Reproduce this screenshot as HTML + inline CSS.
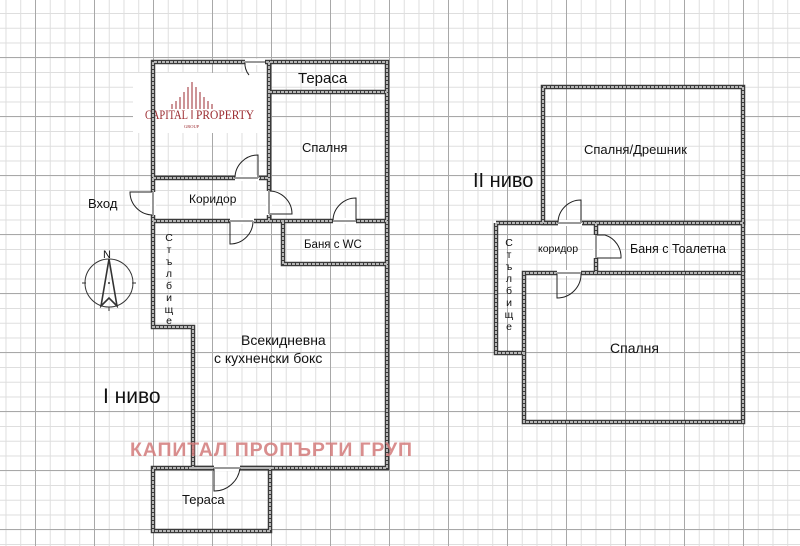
<!DOCTYPE html>
<html><head><meta charset="utf-8"><style>
html,body{margin:0;padding:0;background:#fff}
#c{position:relative;width:800px;height:546px;overflow:hidden;
background-color:#fff;
background-image:
linear-gradient(to right, #a8a8a8 1px, transparent 1px),
linear-gradient(to bottom, #a8a8a8 1px, transparent 1px),
linear-gradient(to right, #dedede 1px, transparent 1px),
linear-gradient(to bottom, #dedede 1px, transparent 1px);
background-size:59px 59px,59px 59px,14.75px 14.75px,14.75px 14.75px;
background-position:35px 0,0 57px,5.5px 0,0 13px;}
svg{position:absolute;left:0;top:0}
text{font-family:"Liberation Sans","DejaVu Sans",sans-serif;fill:#111}
</style></head><body><div id="c">
<svg width="800" height="546" viewBox="0 0 800 546">
<rect x="133" y="73" width="134" height="60" fill="#fff"/>
<g stroke="#9b2a2f" stroke-width="1">
<line x1="192" y1="82" x2="192" y2="109"/>
<line x1="188" y1="87" x2="188" y2="109"/><line x1="196" y1="87" x2="196" y2="109"/>
<line x1="184" y1="92" x2="184" y2="109"/><line x1="200" y1="92" x2="200" y2="109"/>
<line x1="180" y1="97" x2="180" y2="109"/><line x1="204" y1="97" x2="204" y2="109"/>
<line x1="176" y1="101" x2="176" y2="109"/><line x1="208" y1="101" x2="208" y2="109"/>
<line x1="172" y1="104" x2="172" y2="109"/><line x1="212" y1="104" x2="212" y2="109"/>
<line x1="192" y1="110" x2="192" y2="119"/>
</g>
<text x="145" y="119" style="font-family:'Liberation Serif',serif;fill:#9b2a2f;font-size:12.5px" textLength="43" lengthAdjust="spacingAndGlyphs">CAPITAL</text>
<text x="196" y="119" style="font-family:'Liberation Serif',serif;fill:#9b2a2f;font-size:12.5px" textLength="58" lengthAdjust="spacingAndGlyphs">PROPERTY</text>
<text x="184" y="128" style="font-family:'Liberation Serif',serif;fill:#9b2a2f;font-size:4.5px">GROUP</text>

<g fill="none" stroke="#3a3a3a" stroke-width="4.5" stroke-linejoin="miter">
<path d="M153 221 V62 H387 V468 H193 V327 H153 V221"/>
<path d="M269 62 V221"/><path d="M269 92 H387"/><path d="M153 178 H269"/>
<path d="M153 221 H387"/><path d="M283 221 V264 H387"/>
<rect x="153" y="468" width="117" height="63"/>
<rect x="543" y="87" width="200" height="136"/>
<path d="M496 223 H743 V273"/>
<path d="M496 223 V353 H524 V273 H743 V422 H524 V353"/>
<path d="M596 223 V273"/>
</g>
<g fill="none" stroke="#b5b5b5" stroke-width="2" stroke-dasharray="3 1">
<path d="M153 221 V62 H387 V468 H193 V327 H153 V221"/>
<path d="M269 62 V221"/><path d="M269 92 H387"/><path d="M153 178 H269"/>
<path d="M153 221 H387"/><path d="M283 221 V264 H387"/>
<rect x="153" y="468" width="117" height="63"/>
<rect x="543" y="87" width="200" height="136"/>
<path d="M496 223 H743 V273"/>
<path d="M496 223 V353 H524 V273 H743 V422 H524 V353"/>
<path d="M596 223 V273"/>
</g>
<g stroke="#fff" stroke-width="6">
<line x1="245" y1="62" x2="265" y2="62"/>
<line x1="235" y1="178" x2="259" y2="178"/>
<line x1="153" y1="192" x2="153" y2="215"/>
<line x1="269" y1="191" x2="269" y2="215"/>
<line x1="333" y1="221" x2="356" y2="221"/>
<line x1="230" y1="221" x2="254" y2="221"/>
<line x1="214" y1="468" x2="240" y2="468"/>
<line x1="558" y1="223" x2="582" y2="223"/>
<line x1="596" y1="235" x2="596" y2="258"/>
<line x1="557" y1="273" x2="581" y2="273"/>
</g>
<g fill="none" stroke="#222" stroke-width="1">
<path d="M245 62 A18 18 0 0 0 249 75"/>
<path d="M235 178 A23 23 0 0 1 258 155 V178"/>
<path d="M153 192 H130 A23 23 0 0 0 153 215"/>
<path d="M269 191 A23 23 0 0 1 292 214 H269"/>
<path d="M333 221 A23 23 0 0 1 356 198 V221"/>
<path d="M230 221 V244 A23 23 0 0 0 253 221"/>
<path d="M214 468 V491 A26 26 0 0 0 240 468"/>
<path d="M558 223 A23 23 0 0 1 581 200 V223"/>
<path d="M596 235 H605 A23 23 0 0 1 621 258 H596"/>
<path d="M557 273 V298 A24 24 0 0 0 581 273"/>
</g>
<g stroke="#999" stroke-width="2">
<line x1="245" y1="62" x2="265" y2="62"/>
<line x1="235" y1="178" x2="258" y2="178"/><line x1="153" y1="192" x2="153" y2="215"/>
<line x1="269" y1="191" x2="269" y2="214"/><line x1="333" y1="221" x2="356" y2="221"/>
<line x1="230" y1="221" x2="253" y2="221"/><line x1="214" y1="468" x2="240" y2="468"/>
<line x1="558" y1="223" x2="581" y2="223"/><line x1="596" y1="235" x2="596" y2="258"/>
<line x1="557" y1="273" x2="581" y2="273"/>
</g>
<g fill="none" stroke="#333" stroke-width="1">
<circle cx="109" cy="283" r="24"/>
<line x1="82" y1="283" x2="86" y2="283"/><line x1="132" y1="283" x2="136" y2="283"/>
<line x1="109" y1="307" x2="109" y2="311"/>
<path d="M109 259 L101 306 L109 298 L117 306 Z" stroke-width="1.6"/>
</g>
<circle cx="109" cy="283" r="1" fill="#333"/>
<text x="103" y="258" style="font-size:11px">N</text>
<text x="298" y="83" style="font-size:15px">Тераса</text>
<text x="302" y="152" style="font-size:13px">Спалня</text>
<text x="189" y="203" style="font-size:12px">Коридор</text>
<text x="88" y="208" style="font-size:13px">Вход</text>
<text x="304" y="248" style="font-size:11.5px">Баня с WC</text>
<g style="font-size:10.5px" text-anchor="middle">
<text x="169" y="241">С</text><text x="169" y="253">т</text><text x="169" y="265">ъ</text><text x="169" y="277">л</text><text x="169" y="289">б</text><text x="169" y="301">и</text><text x="169" y="313">щ</text><text x="169" y="324">е</text>
<text x="509" y="246">С</text><text x="509" y="258">т</text><text x="509" y="270">ъ</text><text x="509" y="282">л</text><text x="509" y="294">б</text><text x="509" y="306">и</text><text x="509" y="318">щ</text><text x="509" y="330">е</text>
</g>
<text x="241" y="345" style="font-size:14px">Всекидневна</text>
<text x="214" y="363" style="font-size:14px">с кухненски бокс</text>
<text x="103" y="403" style="font-size:21px">I ниво</text>
<text x="182" y="504" style="font-size:13px">Тераса</text>
<text x="130" y="456" style="font-size:19.5px;font-weight:bold;fill:#d27a7a;fill-opacity:.85" textLength="282">КАПИТАЛ ПРОПЪРТИ ГРУП</text>
<text x="473" y="187" style="font-size:20px">II ниво</text>
<text x="584" y="154" style="font-size:13px">Спалня/Дрешник</text>
<text x="538" y="252" style="font-size:10.5px">коридор</text>
<text x="630" y="253" style="font-size:12.5px">Баня с Тоалетна</text>
<text x="610" y="353" style="font-size:14px">Спалня</text>
</svg>
</div></body></html>
